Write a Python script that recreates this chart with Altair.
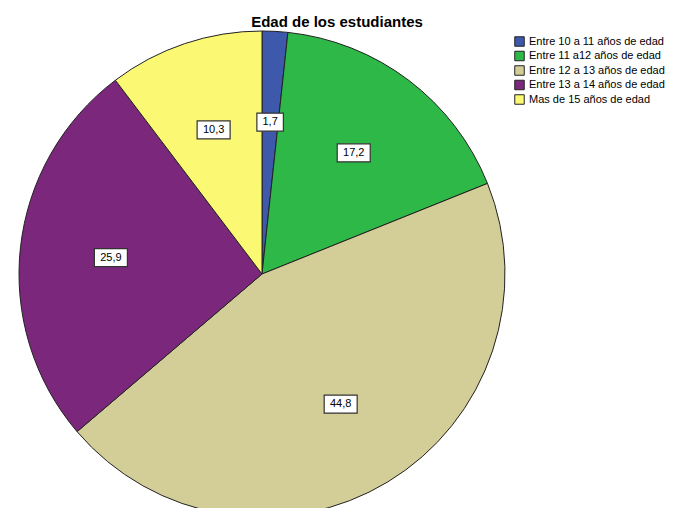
import altair as alt
import pandas as pd

categories = [
    "Entre 10 a 11 años de edad",
    "Entre 11 a12 años de edad",
    "Entre 12 a 13 años de edad",
    "Entre 13 a 14 años de edad",
    "Mas de 15 años de edad",
]
values = [1.7, 17.2, 44.8, 25.9, 10.3]
colors = ["#3E58AC", "#2EB848", "#D3CE97", "#7B277C", "#FBF873"]
title_text = "Edad de los estudiantes"

df = pd.DataFrame({"cat": categories, "val": values, "idx": list(range(len(values)))})

W, H = 659, 500
CX, CY, R, LR = 254, 266, 243, 152
FONT = "Liberation Sans"

xs = alt.Scale(domain=[0, W], range=[0, W], nice=False, zero=False)
ys = alt.Scale(domain=[0, H], range=[0, H], nice=False, zero=False)

base = alt.Chart(df)

pie = base.mark_arc(outerRadius=R, stroke="#222222", strokeWidth=1).encode(
    theta=alt.Theta("val:Q", stack=True),
    color=alt.Color(
        "cat:N",
        scale=alt.Scale(domain=categories, range=colors),
        title=None,
        legend=alt.Legend(
            orient="none",
            legendX=506,
            legendY=28,
            symbolType="square",
            symbolSize=90,
            symbolStrokeColor="#222222",
            symbolStrokeWidth=1,
            symbolOpacity=1,
            labelFontSize=11,
            labelFont=FONT,
            labelColor="#000000",
            labelOffset=4,
            rowPadding=-0.5,
            labelLimit=300,
        ),
    ),
    order=alt.Order("idx:Q"),
    x=alt.value(CX),
    y=alt.value(CY),
)

lab = base.transform_joinaggregate(total="sum(val)").transform_window(
    cum="sum(val)", sort=[alt.SortField("idx")]
).transform_calculate(
    mid="(datum.cum - datum.val/2)/datum.total*2*PI",
    px=f"{CX} + {LR}*sin(datum.mid)",
    py=f"{CY} - {LR}*cos(datum.mid)",
    lab="replace(format(datum.val, '.1f'), '.', ',')",
    bw="length(datum.lab)*6.5 + 7",
    bx1="datum.px - datum.bw/2",
    bx2="datum.px + datum.bw/2",
    by1="datum.py - 9",
    by2="datum.py + 9",
)

boxes = lab.mark_rect(fill="white", stroke="#333333", strokeWidth=1.2).encode(
    x=alt.X("bx1:Q", scale=xs, axis=None),
    x2="bx2:Q",
    y=alt.Y("by1:Q", scale=ys, axis=None),
    y2="by2:Q",
)

texts = lab.mark_text(font=FONT, fontSize=11, color="#000000", align="center", baseline="middle").encode(
    x=alt.X("px:Q", scale=xs, axis=None),
    y=alt.Y("py:Q", scale=ys, axis=None),
    text="lab:N",
)

title = alt.Chart(pd.DataFrame({"t": [title_text]})).mark_text(
    font=FONT, fontSize=15, fontWeight="bold", color="#000000", align="center", baseline="alphabetic"
).encode(x=alt.value(329), y=alt.value(19), text="t:N")

chart = alt.layer(pie, boxes, texts, title).properties(
    width=W, height=H, autosize=alt.AutoSizeParams(type="none"), padding=0
).configure_view(stroke=None)

chart.save("out.html", embed_options={"renderer": "svg", "actions": False})
